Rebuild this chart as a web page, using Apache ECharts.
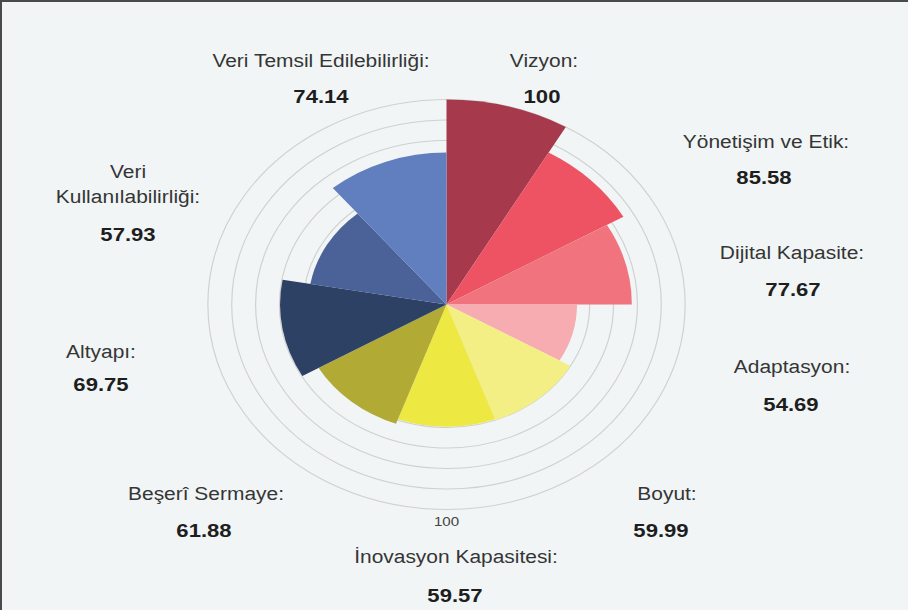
<!DOCTYPE html>
<html>
<head>
<meta charset="utf-8">
<script src="https://cdn.jsdelivr.net/npm/echarts@6/dist/echarts.min.js"></script>
<style>
html, body { margin: 0; padding: 0; width: 908px; height: 610px; overflow: hidden; background: #F1F5F6; }
#chart { position: absolute; left: 0; top: 0; width: 780px; height: 610px; transform-origin: 0 0; transform: scaleX(1.1641); }
#frame { position: absolute; left: 0; top: 0; width: 908px; height: 610px; box-sizing: border-box;
         border-left: 2px solid #4a4a4a; border-top: 2px solid #4a4a4a; pointer-events: none; }
</style>
</head>
<body>
<div id="chart"></div>
<div id="frame"></div>
<script>
// ---- data ----
const categories = ['Vizyon', 'Yönetişim ve Etik', 'Dijital Kapasite', 'Adaptasyon', 'Boyut',
                    'İnovasyon Kapasitesi', 'Beşerî Sermaye', 'Altyapı', 'Veri\nKullanılabilirliği', 'Veri Temsil Edilebilirliği'];
const values = [100, 85.58, 77.67, 54.69, 59.99, 59.57, 61.88, 69.75, 57.93, 74.14];
const radiusTickLabels = ['100'];

// ---- layout / style (not data) ----
const STRETCH = 908 / 780;
const sectorSpanDeg = [30, 30, 30, 30, 40, 40, 40, 40, 40, 40];
const firstSectorStartDeg = 180; // angle axis starts at the bottom, clockwise -> 180 is the top
const colors = ['#A6394B', '#EE5363', '#F0737D', '#F6ACB1', '#F3EF84', '#EEE843', '#B1AB36', '#2D4164', '#4A6298', '#617EBF'];
// label anchors in reference pixels: [nameX, nameY, valueX, valueY]
const labelPos = [
  [544, 61, 542, 96],
  [766, 142, 764, 177],
  [792, 253, 793, 289],
  [792, 367, 791, 404],
  [667, 494, 661, 530],
  [456, 557, 455, 595],
  [206, 494, 204, 530],
  [101, 352, 101, 384],
  [128, 184, 128, 234],
  [321, 61, 321, 96]
];

const FONT = "'Liberation Sans', Arial, sans-serif";

let acc = firstSectorStartDeg;
const sectorData = values.map((v, i) => {
  const a0 = acc;
  acc += sectorSpanDeg[i];
  return { name: categories[i], value: [v, a0, acc] };
});

const graphics = [];
categories.forEach((c, i) => {
  const p = labelPos[i];
  graphics.push({
    type: 'text', x: p[0] / STRETCH, y: p[1], silent: true,
    style: { text: c + ':', fill: '#353535', font: '18px ' + FONT, align: 'center', verticalAlign: 'middle', lineHeight: 25 }
  });
  graphics.push({
    type: 'text', x: p[2] / STRETCH, y: p[3], silent: true,
    style: { text: String(values[i]), fill: '#1e1e1e', font: 'bold 19px ' + FONT, align: 'center', verticalAlign: 'middle' }
  });
});

const chart = echarts.init(document.getElementById('chart'), null, { renderer: 'svg', width: 780, height: 610 });
chart.setOption({
  backgroundColor: 'transparent',
  animation: false,
  polar: { center: [446.5 / STRETCH, 304.5], radius: 205 },
  angleAxis: {
    type: 'value', min: 0, max: 360, startAngle: 270, clockwise: true, show: false
  },
  radiusAxis: {
    type: 'value', min: 0, max: 100, interval: 10,
    axisLine: { show: false }, axisTick: { show: false },
    splitLine: { show: true, lineStyle: { color: '#d0d0d0', width: 1 } },
    axisLabel: {
      margin: 0, align: 'center', verticalAlign: 'top', padding: [5, 0, 0, 0],
      color: '#444', fontSize: 13, fontFamily: FONT,
      formatter: v => radiusTickLabels.indexOf(String(v)) >= 0 ? String(v) : ''
    }
  },
  series: [{
    type: 'custom',
    coordinateSystem: 'polar',
    data: sectorData,
    renderItem: function (params, api) {
      const v = api.value(0), a0 = api.value(1), a1 = api.value(2);
      const cs = params.coordSys;
      const p0 = api.coord([v, a0]);
      const p1 = api.coord([v, a1]);
      const r = Math.hypot(p0[0] - cs.cx, p0[1] - cs.cy);
      let s = Math.atan2(p0[1] - cs.cy, p0[0] - cs.cx);
      let e = Math.atan2(p1[1] - cs.cy, p1[0] - cs.cx);
      if (e < s) e += Math.PI * 2;
      return {
        type: 'sector',
        shape: { cx: cs.cx, cy: cs.cy, r0: 0, r: r, startAngle: s, endAngle: e, clockwise: true },
        style: { fill: colors[params.dataIndex], stroke: null }
      };
    }
  }],
  graphic: graphics
});
</script>
</body>
</html>
